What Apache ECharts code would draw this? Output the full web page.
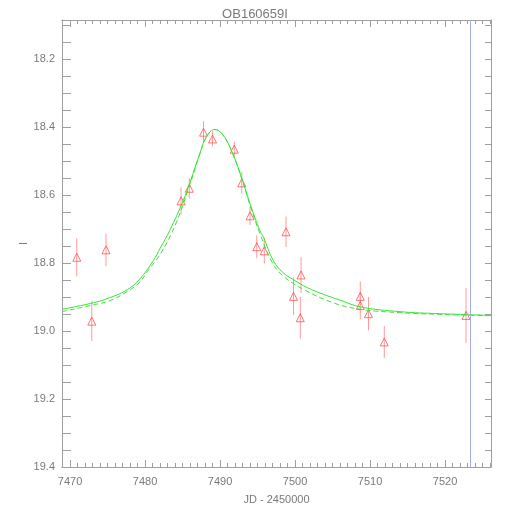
<!DOCTYPE html>
<html>
<head>
<meta charset="utf-8">
<script src="https://cdn.jsdelivr.net/npm/echarts@6/dist/echarts.min.js"></script>
<style>html,body{margin:0;padding:0;background:#fff}#c{width:510px;height:510px}</style>
</head>
<body>
<div id="c"></div>
<script>
// Observations (JD - 2450000, I mag, error)
const obsX = [7470.9, 7472.9, 7474.8, 7484.8, 7485.9, 7487.8, 7489.0, 7491.9, 7492.9, 7494.0, 7494.9, 7495.9, 7498.8, 7499.8, 7500.7, 7500.8, 7508.7, 7508.7, 7509.8, 7511.9, 7522.8];
const obsY = [18.783, 18.971, 18.761, 18.617, 18.580, 18.415, 18.435, 18.465, 18.564, 18.661, 18.752, 18.764, 18.708, 18.898, 18.961, 18.835, 18.898, 18.925, 18.949, 19.032, 18.954];
const obsErr = [0.056, 0.059, 0.048, 0.040, 0.030, 0.032, 0.022, 0.022, 0.032, 0.027, 0.034, 0.038, 0.045, 0.055, 0.062, 0.053, 0.044, 0.040, 0.049, 0.047, 0.081];

// Model curve (solid)
const modelX = [7468.93, 7473.1, 7475.3, 7477.6, 7479.3, 7481.1, 7482.0, 7483.3, 7485.1, 7486.0, 7487.3, 7488.2, 7489.3, 7490.2, 7491.3, 7492.7, 7494.0, 7495.3, 7495.8, 7497.1, 7498.4, 7499.8, 7501.6, 7503.8, 7506.0, 7508.7, 7514.0, 7519.3, 7526.13];
const modelY = [18.936, 18.917, 18.902, 18.879, 18.847, 18.793, 18.757, 18.704, 18.616, 18.562, 18.478, 18.428, 18.407, 18.418, 18.458, 18.537, 18.625, 18.704, 18.724, 18.793, 18.828, 18.849, 18.872, 18.892, 18.909, 18.929, 18.943, 18.949, 18.954];

// Model curve (dashed)
const model2X = [7468.93, 7473.1, 7475.3, 7477.6, 7479.3, 7480.2, 7482.0, 7484.0, 7486.0, 7487.3, 7488.2, 7489.3, 7490.2, 7491.3, 7492.7, 7494.0, 7495.3, 7497.0, 7498.4, 7501.1, 7505.1, 7508.7, 7514.0, 7519.3, 7526.13];
const model2Y = [18.943, 18.923, 18.911, 18.884, 18.857, 18.828, 18.775, 18.690, 18.568, 18.480, 18.429, 18.407, 18.418, 18.459, 18.539, 18.630, 18.712, 18.800, 18.838, 18.877, 18.917, 18.936, 18.946, 18.951, 18.955];

const vlineX = [7523.3];

const xMajor = [7470, 7480, 7490, 7500, 7510, 7520];
const xMinor = [];
for (let v = 7469; v <= 7526; v++) xMinor.push(v);
const yMajor = [18.2, 18.4, 18.6, 18.8, 19.0, 19.2, 19.4];
const yMinor = [];
for (let i = 0; i <= 26; i++) yMinor.push(+(18.1 + i * 0.05).toFixed(2));

const X_MIN = 7468.93, X_MAX = 7526.13, Y_MIN = 18.085, Y_MAX = 19.4;
const axisCol = '#a0a0a0';
const labCol = '#7a7a7a';
const font = 'Liberation Sans';

function xAx(pos, ticks, len, labels, extra) {
  return Object.assign({
    type: 'value', position: pos, min: X_MIN, max: X_MAX,
    axisLine: { show: true, onZero: false, lineStyle: { color: axisCol, width: 1 } },
    axisTick: { show: true, inside: true, length: len, customValues: ticks, lineStyle: { color: axisCol } },
    axisLabel: labels ? { show: true, customValues: xMajor, color: labCol, fontFamily: font, fontSize: 11, margin: 9, formatter: v => String(Math.round(v)) } : { show: false },
    splitLine: { show: false }
  }, extra || {});
}
function yAx(pos, labels, extra) {
  return Object.assign({
    type: 'value', position: pos, min: Y_MIN, max: Y_MAX, inverse: true,
    axisLine: { show: true, onZero: false, lineStyle: { color: axisCol, width: 1 } },
    axisTick: { show: true, inside: true, length: labels ? 9 : 6, customValues: yMinor.concat(yMajor), lineStyle: { color: axisCol } },
    axisLabel: labels ? { show: true, customValues: yMajor, color: labCol, fontFamily: font, fontSize: 11, margin: 7, formatter: v => v.toFixed(1) } : { show: false },
    splitLine: { show: false }
  }, extra || {});
}

const chart = echarts.init(document.getElementById('c'), null, { renderer: 'canvas' });
chart.setOption({
  animation: false,
  backgroundColor: '#fff',
  title: { text: 'OB160659I', left: 'center', top: 3, textStyle: { color: labCol, fontFamily: font, fontSize: 13, fontWeight: 'normal' } },
  grid: { left: 62, right: 19, top: 20, bottom: 43 },
  xAxis: [
    xAx('bottom', xMajor, 7, true, { name: 'JD - 2450000', nameLocation: 'middle', nameGap: 27, nameMoveOverlap: false, nameTextStyle: { color: labCol, fontFamily: font, fontSize: 11 } }),
    xAx('bottom', xMinor, 4, false),
    xAx('top', xMajor, 7, false),
    xAx('top', xMinor, 4, false)
  ],
  yAxis: [
    yAx('left', true, { name: 'I', nameLocation: 'middle', nameRotate: 90, nameGap: 33, nameMoveOverlap: false, nameTextStyle: { color: labCol, fontFamily: font, fontSize: 11 } }),
    yAx('right', false)
  ],
  series: [
    {
      type: 'line', xAxisIndex: 0, yAxisIndex: 0,
      data: model2X.map((x, i) => [x, model2Y[i]]),
      smooth: 0.4, symbol: 'none',
      lineStyle: { color: '#44e044', width: 1, type: [5, 3] }
    },
    {
      type: 'line', xAxisIndex: 0, yAxisIndex: 0,
      data: modelX.map((x, i) => [x, modelY[i]]),
      smooth: 0.4, symbol: 'none',
      lineStyle: { color: '#33e833', width: 1 },
      markLine: {
        silent: true, symbol: 'none', label: { show: false },
        lineStyle: { color: '#a8a8f4', width: 1, type: 'solid' },
        data: vlineX.map(v => ({ xAxis: v }))
      }
    },
    {
      type: 'custom', xAxisIndex: 0, yAxisIndex: 0,
      data: obsX.map((x, i) => [x, obsY[i], obsErr[i]]),
      renderItem: function (params, api) {
        const x = api.value(0), y = api.value(1), e = api.value(2);
        const p1 = api.coord([x, y - e]);
        const p2 = api.coord([x, y + e]);
        return { type: 'line', shape: { x1: p1[0], y1: p1[1], x2: p2[0], y2: p2[1] }, style: { stroke: '#ff9a9a', lineWidth: 1 } };
      },
      silent: true
    },
    {
      type: 'scatter', xAxisIndex: 0, yAxisIndex: 0,
      data: obsX.map((x, i) => [x, obsY[i]]),
      symbol: 'triangle', symbolSize: [8, 8],
      itemStyle: { color: 'rgba(0,0,0,0)', borderColor: '#ff5050', borderWidth: 1 }
    }
  ]
});
</script>
</body>
</html>
